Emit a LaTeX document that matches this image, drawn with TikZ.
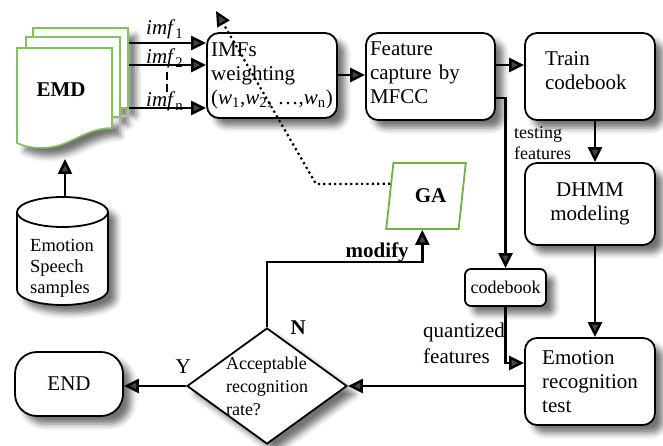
\documentclass[tikz,border=0pt]{standalone}
\usepackage{fontspec}
\setmainfont{Liberation Serif}
\usetikzlibrary{arrows.meta,calc,shapes.geometric,shadows.blur}
\definecolor{pageEdge}{HTML}{82C35A}
\definecolor{gaEdge}{HTML}{6DB33F}
\newcommand{\fmain}{\fontsize{21}{24}\selectfont}
\newcommand{\fsmall}{\fontsize{18}{21}\selectfont}
\tikzset{
  shad/.style={blur shadow={shadow xshift=8pt, shadow yshift=-8pt,
        shadow blur radius=6pt, shadow opacity=55}},
  procbox/.style={draw, fill=white, rounded corners=12pt, line width=1.8pt, align=left,
        font=\fmain, inner sep=3pt, minimum width=130pt, minimum height=87pt, shad},
  decbox/.style={draw, fill=white, diamond, aspect=1.38, line width=1.8pt, align=left,
        font=\fontsize{18}{23}\selectfont, inner sep=-3pt, minimum width=160pt,
        minimum height=116pt, shad},
  endbox/.style={draw, fill=white, rounded corners=22pt, line width=1.8pt, font=\fmain,
        minimum width=108pt, minimum height=64pt, shad},
  gabox/.style={draw=gaEdge, fill=white, trapezium, trapezium left angle=76,
        trapezium right angle=104, trapezium stretches=true, line width=1.8pt,
        font=\fmain\bfseries, minimum width=80pt, minimum height=66pt},
  page/.style={draw=pageEdge, fill=white, line width=1.6pt, inner sep=0pt},
  cylline/.style={draw, fill=white, line width=1.8pt},
  flow/.style={-{Triangle[length=15pt,width=14pt]}, line width=2.5pt},
  dotflow/.style={-{Triangle[length=15pt,width=14pt]}, line width=2.2pt,
        dash pattern=on 2.2pt off 3.2pt},
  gapdash/.style={line width=1.6pt, dash pattern=on 8pt off 4pt},
  lbl/.style={font=\fmain, inner sep=0pt},
}
\begin{document}
\begin{tikzpicture}[x=1pt,y=1pt]
  \useasboundingbox (0,0) rectangle (663,-446);
  \path[shad] (33,-28) rectangle (128,-108) (26,-37) rectangle (120,-117)
    (17,-48) -- (112,-48) -- (112,-128) .. controls (90,-128) and (75,-141) .. (57,-146)
    .. controls (45,-149) and (30,-149) .. (17,-143) -- cycle;
  \node[page, minimum width=95pt, minimum height=80pt] (pg3) at (80.5,-68) {};
  \node[page, minimum width=94pt, minimum height=80pt] (pg2) at (73,-77) {};
  \draw[page] (17,-48) -- (112,-48) -- (112,-128) .. controls (90,-128) and (75,-141) .. (57,-146)
    .. controls (45,-149) and (30,-149) .. (17,-143) -- cycle;
  \node[font=\fmain\bfseries] (emd) at (61,-89.5) {EMD};
  \draw[cylline, shad] (17,-212) -- (17,-290) arc (180:360:45.5 and 15) -- (108,-212)
    arc (0:180:45.5 and 15) -- cycle;
  \draw[cylline, fill=none] (17,-212) arc (180:360:45.5 and 15);
  \node[lbl, font=\fontsize{18.5}{21}\selectfont, align=left, anchor=north west] (spk)
    at (30,-239) {Emotion\\Speech\\samples};
  \coordinate (cyltop) at (65,-197);
  \coordinate (emdbot) at (65,-159);

  \node[procbox, minimum height=85pt] (imfw) at (272,-75.5)
    {IMFs\\weighting\\(\textit{w}\textsubscript{1},\textit{w}\textsubscript{2}, …,\textit{w}\textsubscript{n})};
  \node[procbox, text width=121pt, inner xsep=4pt, minimum width=129pt, text depth=56pt]
    (feat) at (430.5,-76.5) {Feature\\capture by\\MFCC};
  \node[procbox, text width=90pt, inner xsep=20pt, text depth=36pt] (train) at (590,-76.5)
    {Train\\codebook};
  \node[procbox, align=center, minimum height=82pt] (dhmm) at (590,-204) {DHMM\\modeling};
  \node[procbox, font=\fsmall, rounded corners=6pt, minimum width=81pt, minimum height=37pt]
    (cbook) at (505.5,-287.5) {codebook};
  \node[procbox] (emo) at (590,-381.5) {Emotion\\recognition\\test};
  \node[decbox] (dec) at (267,-386) {Acceptable\\recognition\\rate?};
  \node[endbox] (endt) at (69,-384) {END};
  \node[gabox] (ga) at (426,-196) {\hspace*{9pt}GA};

  \draw[flow] (cyltop) -- (emdbot);
  \draw[flow] (pg3.east |- 0,-43) -- (imfw.west |- 0,-43);
  \draw[flow] (pg3.east |- 0,-65) -- (imfw.west |- 0,-65);
  \draw[flow] (pg3.east |- 0,-108) -- (imfw.west |- 0,-108);
  \node[lbl, anchor=base west] (imf1) at (146,-35) {\textit{imf}\textsubscript{1}};
  \node[lbl, anchor=base west] (imf2) at (146,-64) {\textit{imf}\textsubscript{2}};
  \node[lbl, anchor=base west] (imfn) at (146,-107) {\textit{imf}\textsubscript{n}};
  \draw[gapdash] (167,-72) -- (167,-95);

  \draw[flow] (imfw.east |- 0,-75) -- (feat.west |- 0,-75);
  \draw[flow] (feat.east |- 0,-65) -- (train.west |- 0,-65);
  \draw[flow] (feat.east |- 0,-98) -| (cbook.north);
  \node[lbl, font=\fsmall, align=left, anchor=north west] (testlab) at (514,-126)
    {testing\\features};
  \draw[flow] ([xshift=5pt]train.south) -- ([xshift=5pt]dhmm.north);
  \draw[flow] ([xshift=5pt]dhmm.south) -- ([xshift=5pt]emo.north);
  \draw[flow] (cbook.south) |- (emo.west |- 0,-363);
  \node[lbl, font=\fontsize{21}{26}\selectfont, align=left, anchor=north west] (quantlab)
    at (423,-323) {quantized\\features};
  \draw[flow] (emo.west |- dec.east) -- (dec.east);
  \draw[flow] (dec.west) -- (dec.west -| endt.east)
    node[pos=0, anchor=base, xshift=-3pt, yshift=13pt, font=\fmain]{Y};
  \coordinate (gabot) at ($(ga.bottom left corner)!0.5!(ga.bottom right corner)$);
  \draw[flow] (dec.north) node[anchor=base west, xshift=19pt, yshift=-7pt, font=\fmain\bfseries]{N}
    -- (dec.north |- 0,-262) -| (gabot)
    node[pos=0.5, anchor=base east, xshift=-9pt, yshift=5pt, font=\fmain\bfseries]{modify};

  \coordinate (dotbend) at (316,-184);
  \coordinate (dottip) at (216,-11);
  \draw[dotflow] ($(ga.top left corner)!0.32!(ga.bottom left corner)$) -- (dotbend) -- (dottip);
\end{tikzpicture}
\end{document}
